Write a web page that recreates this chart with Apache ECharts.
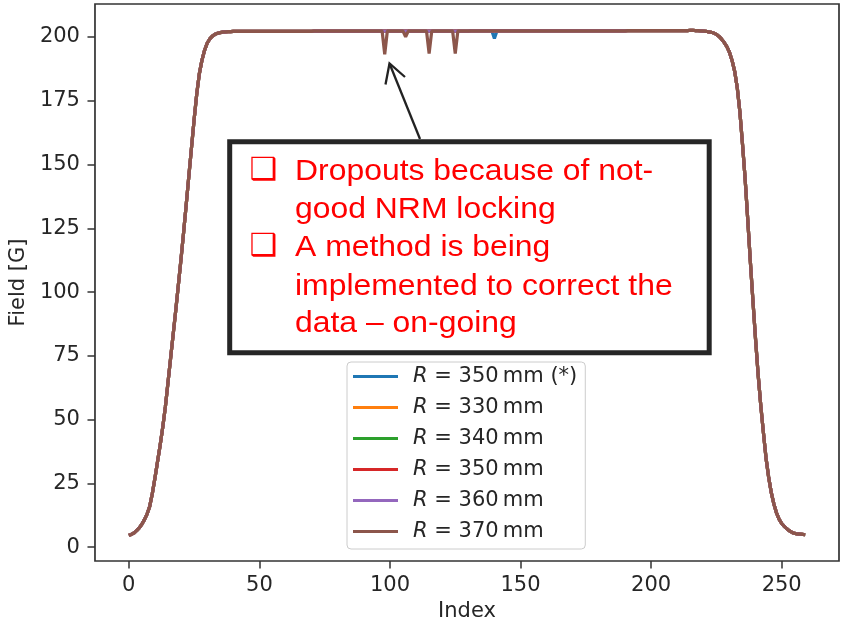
<!DOCTYPE html>
<html>
<head>
<meta charset="utf-8">
<script src="https://cdn.jsdelivr.net/npm/echarts@6/dist/echarts.min.js"></script>
<style>
  html, body { margin: 0; padding: 0; background: #ffffff; }
  #chart { width: 847px; height: 627px; }
</style>
</head>
<body>
<div id="chart"></div>
<script>
// Measured field profile along the scan, one value per index (0 .. 259), in gauss
const fieldProfile = [
  4.7, 5.0, 5.6, 6.5, 7.6, 9.0, 10.8, 13.0, 16.0, 21.0,
  27.0, 33.5, 40.0, 47.0, 55.0, 64.5, 74.0, 83.5, 93.0, 103.0,
  113.0, 123.5, 134.5, 145.5, 156.5, 167.5, 177.5, 185.5, 190.8, 194.7,
  197.5, 199.2, 200.3, 201.0, 201.4, 201.7, 201.9, 202.0, 202.1, 202.1,
  202.2,
  202.2, 202.2, 202.2, 202.2, 202.2, 202.2, 202.2, 202.2, 202.2, 202.2,
  202.2, 202.2, 202.2, 202.2, 202.2, 202.2, 202.2, 202.2, 202.2, 202.2,
  202.2, 202.2, 202.2, 202.2, 202.2, 202.2, 202.2, 202.2, 202.2, 202.2,
  202.3, 202.3, 202.3, 202.3, 202.3, 202.3, 202.3, 202.3, 202.3, 202.3,
  202.3, 202.3, 202.3, 202.3, 202.3, 202.3, 202.3, 202.3, 202.3, 202.3,
  202.3, 202.3, 202.3, 202.3, 202.3, 202.3, 202.3, 202.3, 202.3, 202.3,
  202.3, 202.3, 202.3, 202.3, 202.3, 202.3, 202.3, 202.3, 202.3, 202.3,
  202.3, 202.3, 202.3, 202.3, 202.3, 202.3, 202.3, 202.3, 202.3, 202.3,
  202.3, 202.3, 202.3, 202.3, 202.3, 202.3, 202.3, 202.3, 202.3, 202.3,
  202.4, 202.4, 202.4, 202.4, 202.4, 202.4, 202.4, 202.4, 202.4, 202.4,
  202.4, 202.4, 202.4, 202.4, 202.4, 202.4, 202.4, 202.4, 202.4, 202.4,
  202.4, 202.4, 202.4, 202.4, 202.4, 202.4, 202.4, 202.4, 202.4, 202.4,
  202.4, 202.4, 202.4, 202.4, 202.4, 202.4, 202.4, 202.4, 202.4, 202.4,
  202.4, 202.4, 202.4, 202.4, 202.4, 202.4, 202.4, 202.4, 202.4, 202.4,
  202.4, 202.4, 202.4, 202.4, 202.4, 202.4, 202.4, 202.4, 202.4, 202.4,
  202.5, 202.5, 202.5, 202.5, 202.5, 202.5, 202.5, 202.5, 202.5, 202.5,
  202.5, 202.5, 202.5, 202.5, 202.5, 202.5, 202.5, 202.5, 202.5, 202.5,
  202.5, 202.5, 202.5, 202.5,
  202.6, 202.6, 202.5, 202.5, 202.4, 202.3, 202.2, 202.0, 201.8, 201.5,
  201.0, 200.2, 199.1, 197.8, 196.2, 194.0, 190.8, 186.5, 180.0, 170.5,
  158.0, 144.5, 128.5, 112.0, 96.5, 81.5, 67.5, 55.5, 45.0, 35.0,
  27.5, 21.5, 17.0, 13.5, 11.0, 9.3, 8.2, 7.2, 6.4, 5.8,
  5.4, 5.2, 5.1, 5.0, 4.9
];

// Points where a run lost the NRM lock: [index, field]
const dropoutsRef350 = [[140, 199.4]];
const dropouts370 = [[98, 193.2], [106, 200.0], [115, 193.5], [125, 193.5]];

const seriesNames = [
  'R = 350\u2009mm (*)', 'R = 330\u2009mm', 'R = 340\u2009mm',
  'R = 350\u2009mm', 'R = 360\u2009mm', 'R = 370\u2009mm'
];
const seriesColors = ['#1f77b4', '#ff7f0e', '#2ca02c', '#d62728', '#9467bd', '#8c564b'];
const seriesDropouts = [dropoutsRef350, [], [], [], [], dropouts370];

const xTickValues = [0, 50, 100, 150, 200, 250];
const yTickValues = [0, 25, 50, 75, 100, 125, 150, 175, 200];

const noteLines = [
  'Dropouts because of not-',
  'good NRM locking',
  'A method is being',
  'implemented to correct the',
  'data \u2013 on-going'
];

function buildRun(dropouts) {
  const pts = fieldProfile.map((v, i) => [i, v]);
  dropouts.forEach(([i, v]) => { pts[i] = [i, v]; });
  return pts;
}

const tickFont = { fontFamily: 'DejaVu Sans', fontSize: 21, color: '#262626' };

const chart = echarts.init(document.getElementById('chart'), null, { renderer: 'canvas' });

const noteFont = '29px "Liberation Sans", Arial, sans-serif';
const lineBaselines = [181.7, 220.0, 258.3, 296.7, 334.0];

const graphics = [
  {
    type: 'rect', z: 100,
    shape: { x: 229.7, y: 141.7, width: 479.5, height: 211 },
    style: { fill: '#ffffff', stroke: '#262626', lineWidth: 5 }
  },
  {
    type: 'line', z: 100,
    shape: { x1: 420, y1: 139, x2: 389.5, y2: 63.5 },
    style: { stroke: '#222222', lineWidth: 2.3 }
  },
  {
    type: 'polyline', z: 100,
    shape: { points: [[385.5, 84.5], [389.5, 63.5], [405, 77]] },
    style: { stroke: '#222222', lineWidth: 2.3, fill: null }
  }
];
noteLines.forEach((t, k) => {
  graphics.push({
    type: 'text', z: 101,
    x: 295, y: lineBaselines[k] - 10, scaleX: 1.1,
    style: { text: t, font: noteFont, fill: '#ff0000', verticalAlign: 'middle', align: 'left' }
  });
});
[0, 2].forEach((k) => {
  graphics.push({
    type: 'text', z: 101,
    x: 249.5, y: lineBaselines[k] - 11,
    style: { text: '\u2751', font: 'bold 31px "DejaVu Sans"', fill: '#ff0000', verticalAlign: 'middle', align: 'left' }
  });
});

chart.setOption({
  animation: false,
  backgroundColor: '#ffffff',
  grid: {
    left: 93.5, right: 8, top: 4, bottom: 65,
    show: true, borderColor: '#333333', borderWidth: 1.7, backgroundColor: 'transparent'
  },
  xAxis: {
    type: 'value', min: -12.95, max: 271.95,
    name: 'Index', nameLocation: 'middle', nameGap: 40,
    nameTextStyle: tickFont,
    axisLine: { show: false, onZero: false },
    splitLine: { show: false },
    axisTick: { show: true, length: 7.5, lineStyle: { color: '#333333', width: 1.5 }, customValues: xTickValues },
    axisLabel: Object.assign({ margin: 14, customValues: xTickValues }, tickFont)
  },
  yAxis: {
    type: 'value', min: -5.4, max: 212.9,
    name: 'Field [G]', nameLocation: 'middle', nameGap: 54,
    nameTextStyle: tickFont,
    axisLine: { show: false, onZero: false },
    splitLine: { show: false },
    axisTick: { show: true, length: 7.5, lineStyle: { color: '#333333', width: 1.5 }, customValues: yTickValues },
    axisLabel: Object.assign({ margin: 15, customValues: yTickValues }, tickFont)
  },
  legend: {
    orient: 'vertical', left: 347, top: 362,
    padding: [4, 8, 7, 6], itemGap: 10,
    itemWidth: 45, itemHeight: 3, icon: 'rect',
    borderColor: '#cccccc', borderWidth: 1, borderRadius: 4,
    backgroundColor: 'rgba(255,255,255,0.8)',
    data: seriesNames,
    formatter: (name) => name.replace(/^R/, '{i|R}'),
    textStyle: {
      fontFamily: 'DejaVu Sans', fontSize: 21, color: '#262626', lineHeight: 21,
      rich: { i: { fontFamily: 'DejaVu Sans', fontStyle: 'italic', fontSize: 21, color: '#262626', padding: [0, 0, 0, 10] } }
    }
  },
  series: seriesNames.map((name, k) => ({
    name, type: 'line', showSymbol: false, symbol: 'none',
    data: buildRun(seriesDropouts[k]),
    color: seriesColors[k],
    lineStyle: { width: 3.2, color: seriesColors[k] },
    z: 2
  })),
  graphic: graphics
});
</script>
</body>
</html>
